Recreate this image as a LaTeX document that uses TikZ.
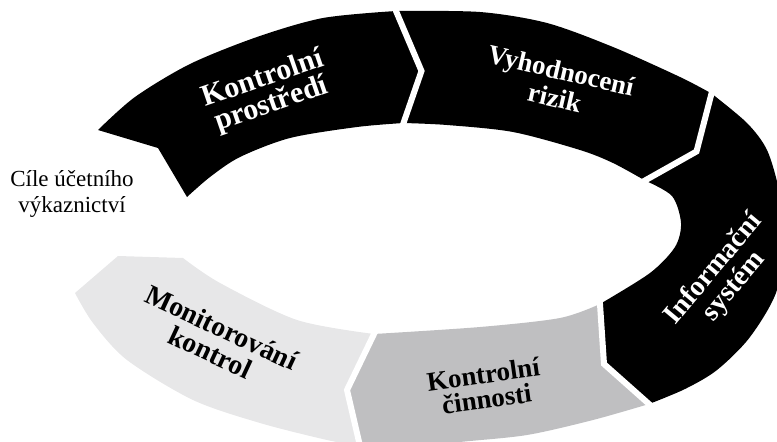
\documentclass[tikz,border=0pt]{standalone}
\usepackage{fontspec}
\setmainfont{Liberation Serif}
\usetikzlibrary{calc}
\lineskiplimit=-100pt
\lineskip=0pt
\definecolor{kcgray}{HTML}{BFBFC1}
\definecolor{mkgray}{HTML}{E7E7E8}
\tikzset{
  gapline/.style={draw=white, line width=6pt, line join=miter, line cap=butt},
  lbl/.style={align=center, inner sep=0pt},
}
\begin{document}
\begin{tikzpicture}[x=1pt,y=-1pt]
\useasboundingbox (0,0) rectangle (777,442);
\clip (0,0) rectangle (777,442);

% chevron joints between neighbouring segments: outer end, tip, inner end
\coordinate (b1o) at (396,11);    \coordinate (b1t) at (421.5,71);  \coordinate (b1i) at (403.5,123);
\coordinate (b2o) at (711.5,93.5);\coordinate (b2t) at (696.5,151.5);\coordinate (b2i) at (645,180.5);
\coordinate (b3i) at (600,304);   \coordinate (b3t) at (604,364);   \coordinate (b3o) at (649,404);
\coordinate (b4i) at (374,334);   \coordinate (b4t) at (347,390);   \coordinate (b4o) at (360,446);

% Kontrolni prostredi
\fill[black] (98,130)
  -- plot[smooth] coordinates {(98,130) (135,97) (190,64) (257,37) (323,18) (396,11)}
  -- (b1t) -- (b1i)
  -- plot[smooth] coordinates {(403.5,123) (357,127) (290,138) (240,157) (210,177) (187,197)}
  -- (158,148) -- cycle;

% Vyhodnoceni rizik
\fill[black] (b1o)
  -- plot[smooth] coordinates {(396,11) (480,12) (547,23) (613,47) (680,77) (711.5,93.5)}
  -- (b2t) -- (b2i)
  -- plot[smooth] coordinates {(645,180.5) (613,163) (580,150) (513,132) (447,125) (403.5,123)}
  -- (b1t) -- cycle;

% Informacni system
\fill[black] (b2o)
  -- plot[smooth] coordinates {(711.5,93.5) (747,123) (767,150) (779,190) (784,230) (777,290) (750,337) (717,370) (685,389) (649,404)}
  -- (b3t) -- (b3i)
  -- plot[smooth] coordinates {(600,304) (650,273) (675,247) (681,223) (672,196) (645,180.5)}
  -- (b2t) -- cycle;

% Kontrolni cinnosti
\fill[kcgray] (b3o)
  -- plot[smooth] coordinates {(649,404) (593,420) (527,435) (460,442) (400,449) (360,446)}
  -- (b4t) -- (b4i)
  -- plot[smooth] coordinates {(374,334) (480,327) (560,318) (600,304)}
  -- (b3t) -- cycle;

% Monitorovani kontrol
\fill[mkgray] (b4o)
  -- plot[smooth] coordinates {(360,446) (327,440) (260,423) (193,400) (127,360) (93,323) (75,293)}
  -- (118,256) -- (183,258)
  -- plot[smooth] coordinates {(183,258) (220,283) (297,320) (374,334)}
  -- (b4t) -- cycle;

% white gaps along the joints
\draw[gapline] ($(b1o)!-10pt!(b1t)$) -- (b1t) -- ($(b1i)!-10pt!(b1t)$);
\draw[gapline] ($(b2o)!-10pt!(b2t)$) -- (b2t) -- ($(b2i)!-10pt!(b2t)$);
\draw[gapline] ($(b3i)!-10pt!(b3t)$) -- (b3t) -- ($(b3o)!-10pt!(b3t)$);
\draw[gapline] ($(b4i)!-10pt!(b4t)$) -- (b4t) -- ($(b4o)!-10pt!(b4t)$);

% labels
\node[lbl, text=white, rotate=19, font=\fontsize{30}{27}\selectfont\bfseries] (kp) at (267.3,92) {Kontrolní\\prostředí};
\node[lbl, text=white, rotate=-13, font=\fontsize{27}{28}\selectfont\bfseries] (vr) at (558,84) {Vyhodnocení\\rizik};
\node[lbl, text=white, rotate=50, font=\fontsize{28}{27}\selectfont\bfseries] (is) at (724,278) {Informační\\systém};
\node[lbl, text=black, rotate=8, font=\fontsize{27}{25}\selectfont\bfseries] (kc) at (485,386.6) {Kontrolní\\činnosti};
\node[lbl, text=black, rotate=-25, font=\fontsize{28}{27}\selectfont\bfseries] (mk) at (216,340) {Monitorování\\kontrol};
\node[lbl, text=black, font=\fontsize{23}{26}\selectfont] (goal) at (72,194) {Cíle účetního\\výkaznictví};
\end{tikzpicture}
\end{document}
